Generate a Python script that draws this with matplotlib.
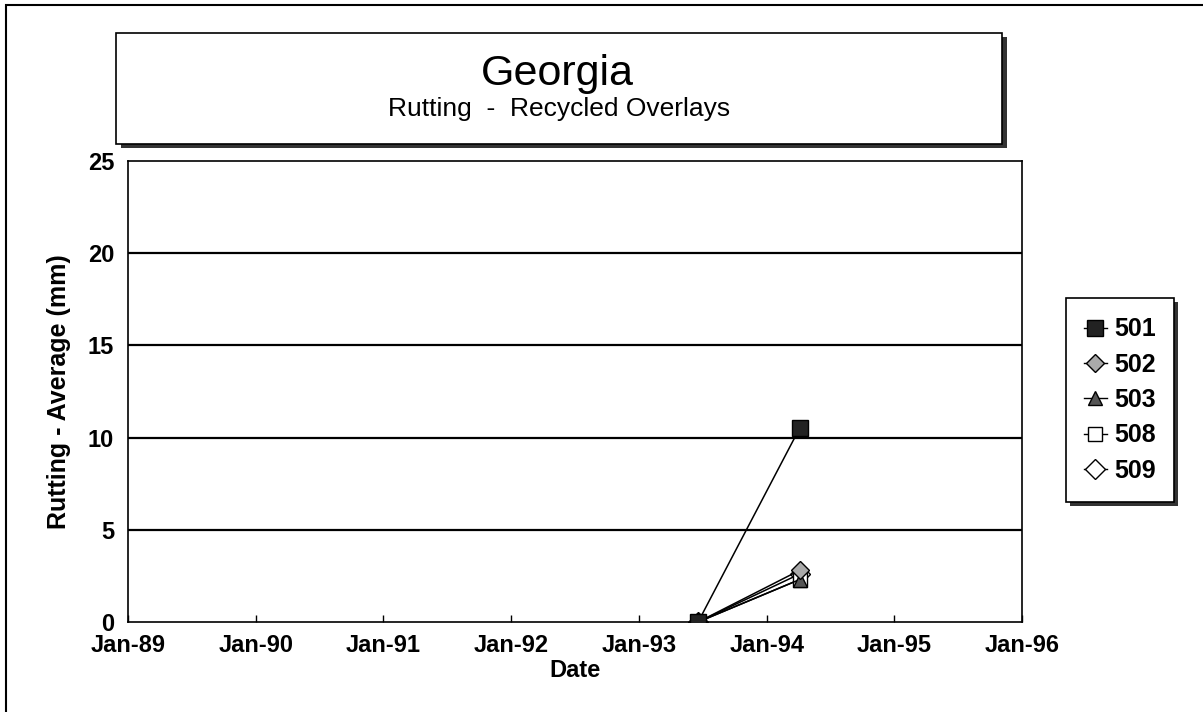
import matplotlib
matplotlib.use("Agg")
import matplotlib.pyplot as plt
from matplotlib.patches import Rectangle
from matplotlib.lines import Line2D
import datetime as dt

plt.rcParams['font.family'] = ['Liberation Sans', 'DejaVu Sans']

# ---- data ----
dates = [dt.date(1993, 6, 19), dt.date(1994, 4, 5)]
series_names = ['501', '502', '503', '508', '509']
s501 = [0.0, 10.5]
s502 = [0.0, 2.8]
s503 = [0.0, 2.3]
s508 = [0.0, 2.3]
s509 = [0.0, 2.6]
xtick_years = [1989, 1990, 1991, 1992, 1993, 1994, 1995, 1996]
xtick_labels = ['Jan-89', 'Jan-90', 'Jan-91', 'Jan-92', 'Jan-93', 'Jan-94', 'Jan-95', 'Jan-96']
yticks = [0, 5, 10, 15, 20, 25]

W, H = 1203, 712
fig = plt.figure(figsize=(W / 100, H / 100), dpi=100)
fig.patch.set_facecolor('white')

def fx(px):
    return px / W

def fy(py):
    return 1 - py / H

# outer frame
fig.add_artist(Rectangle((fx(6), fy(740)), fx(1240) - fx(6), fy(5) - fy(740),
                         transform=fig.transFigure, fill=False, edgecolor='black', lw=1.5))

# title box with shadow
tb_l, tb_r, tb_t, tb_b = 116, 1002, 33, 144
fig.add_artist(Rectangle((fx(tb_l + 5), fy(tb_b + 4)), fx(tb_r - tb_l), fy(tb_t) - fy(tb_b),
                         transform=fig.transFigure, facecolor='#333333', edgecolor='none'))
fig.add_artist(Rectangle((fx(tb_l), fy(tb_b)), fx(tb_r - tb_l), fy(tb_t) - fy(tb_b),
                         transform=fig.transFigure, facecolor='white', edgecolor='black', lw=1.2))
fig.text(fx(557), fy(74), 'Georgia', ha='center', va='center', fontsize=31)
fig.text(fx(559), fy(109), 'Rutting  -  Recycled Overlays', ha='center', va='center',
         fontsize=19)

# axes
ax_l, ax_r, ax_t, ax_b = 128, 1022, 161, 622
ax = fig.add_axes([fx(ax_l), fy(ax_b), fx(ax_r - ax_l), fy(ax_t) - fy(ax_b)])
ax.set_facecolor('white')

markers = {
    '501': dict(marker='s', markersize=12, markerfacecolor='#222222', markeredgecolor='black'),
    '502': dict(marker='D', markersize=9, markerfacecolor='#aaaaaa', markeredgecolor='black'),
    '503': dict(marker='^', markersize=10, markerfacecolor='#555555', markeredgecolor='black'),
    '508': dict(marker='s', markersize=10, markerfacecolor='white', markeredgecolor='black'),
    '509': dict(marker='D', markersize=10, markerfacecolor='white', markeredgecolor='black'),
}
values = {'501': s501, '502': s502, '503': s503, '508': s508, '509': s509}
for name in ['509', '508', '503', '502', '501']:
    ax.plot(dates, values[name], color='black', lw=1.1, markeredgewidth=1.0, zorder=3,
            **markers[name])
handles = [Line2D([0], [0], color='black', lw=1.0, markeredgewidth=1.0, **markers[n])
           for n in series_names]

ax.set_xlim(dt.date(1989, 1, 1), dt.date(1996, 1, 1))
ax.set_ylim(0, 25)
ax.set_xticks([dt.date(y, 1, 1) for y in xtick_years])
ax.set_xticklabels(xtick_labels)
ax.set_yticks(yticks)
for y in yticks[1:-1]:
    ax.axhline(y, color='black', lw=1.6, zorder=1)
for sp in ax.spines.values():
    sp.set_color('black')
    sp.set_linewidth(1.2)
ax.tick_params(axis='x', direction='in', length=5, width=1, pad=9, labelsize=17)
ax.tick_params(axis='y', length=0, pad=10, labelsize=17)
for lbl in ax.get_xticklabels() + ax.get_yticklabels():
    lbl.set_fontweight('bold')
ax.set_xlabel('Date', fontsize=17, fontweight='bold', labelpad=1)
ax.set_ylabel('Rutting - Average (mm)', fontsize=18, fontweight='bold', labelpad=12)

# legend box with shadow
lg_l, lg_r, lg_t, lg_b = 1066, 1174, 298, 502
fig.add_artist(Rectangle((fx(lg_l + 4), fy(lg_b + 4)), fx(lg_r - lg_l), fy(lg_t) - fy(lg_b),
                         transform=fig.transFigure, facecolor='#333333', edgecolor='none'))
fig.add_artist(Rectangle((fx(lg_l), fy(lg_b)), fx(lg_r - lg_l), fy(lg_t) - fy(lg_b),
                         transform=fig.transFigure, facecolor='white', edgecolor='black', lw=1.2))
leg = fig.legend(handles, series_names, loc='center',
                 bbox_to_anchor=(fx((lg_l + lg_r) / 2), fy((lg_t + lg_b) / 2)),
                 frameon=False, prop={'size': 18, 'weight': 'bold'},
                 handlelength=0.95, handletextpad=0.3, labelspacing=0.45, borderpad=0.2)

fig.savefig('out.png', dpi=100, facecolor='white')
